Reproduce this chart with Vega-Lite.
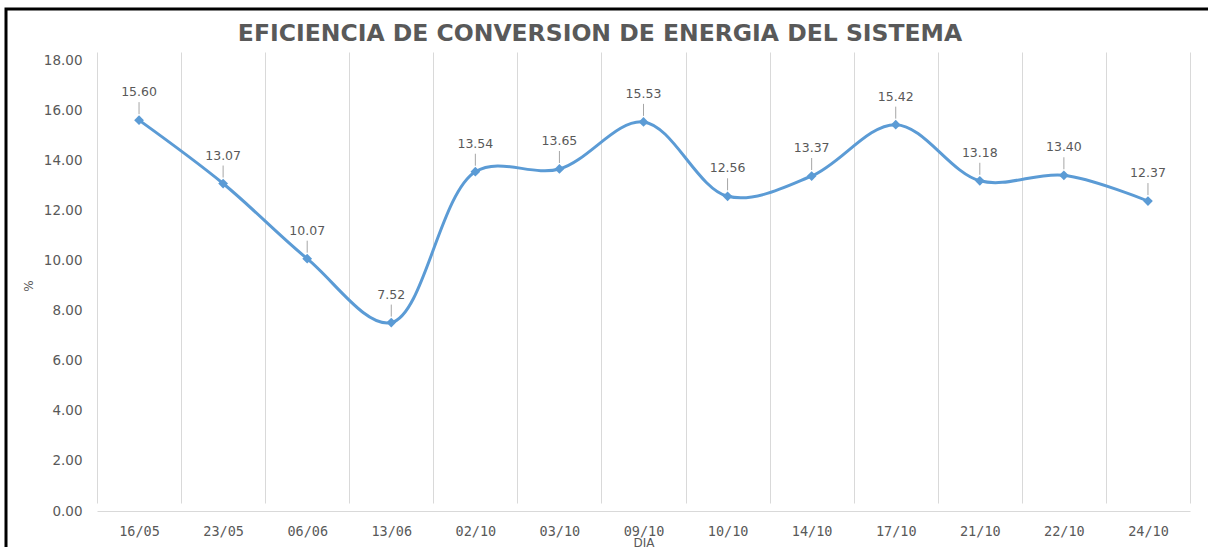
{
  "$schema": "https://vega.github.io/schema/vega-lite/v6.json",
  "width": 1210,
  "height": 545,
  "autosize": {"type": "none"},
  "padding": {"left": 6, "top": 9, "right": 0, "bottom": 0},
  "background": "white",
  "config": {"view": {"stroke": "#000000", "strokeWidth": 3}},
  "title": {
    "text": "EFICIENCIA DE CONVERSION DE ENERGIA DEL SISTEMA",
    "font": "DejaVu Sans",
    "fontSize": 23.5,
    "fontWeight": "bold",
    "color": "#595959",
    "anchor": "middle",
    "frame": "group",
    "offset": 0,
    "baseline": "alphabetic",
    "dy": 55,
    "dx": -11
  },
  "data": {
    "values": [
      {"dia": "16/05", "ef": 15.60},
      {"dia": "23/05", "ef": 13.07},
      {"dia": "06/06", "ef": 10.07},
      {"dia": "13/06", "ef": 7.52},
      {"dia": "02/10", "ef": 13.54},
      {"dia": "03/10", "ef": 13.65},
      {"dia": "09/10", "ef": 15.53},
      {"dia": "10/10", "ef": 12.56},
      {"dia": "14/10", "ef": 13.37},
      {"dia": "17/10", "ef": 15.42},
      {"dia": "21/10", "ef": 13.18},
      {"dia": "22/10", "ef": 13.40},
      {"dia": "24/10", "ef": 12.37}
    ]
  },
  "encoding": {
    "x": {
      "field": "dia",
      "type": "ordinal",
      "sort": null,
      "scale": {"type": "band", "range": [91, 1184], "paddingInner": 0, "paddingOuter": 0},
      "axis": {
        "orient": "bottom",
        "offset": -43,
        "domain": true,
        "domainColor": "#D9D9D9",
        "ticks": false,
        "grid": true,
        "gridColor": "#D9D9D9",
        "tickBand": "extent",
        "labelAngle": 0,
        "labelFont": "DejaVu Sans Mono",
        "labelFontSize": 13.5,
        "labelColor": "#595959",
        "labelPadding": 13,
        "title": "DIA",
        "titleFont": "DejaVu Sans",
        "titleFontSize": 12,
        "titleFontWeight": "normal",
        "titleColor": "#595959",
        "titlePadding": 0
      }
    },
    "y": {
      "field": "ef",
      "type": "quantitative",
      "scale": {"domain": [0, 18], "range": [502, 51], "nice": false, "zero": true},
      "axis": {
        "orient": "left",
        "offset": -91,
        "domain": false,
        "ticks": false,
        "grid": false,
        "values": [0, 2, 4, 6, 8, 10, 12, 14, 16, 18],
        "format": ".2f",
        "labelPadding": 15,
        "labelFont": "DejaVu Sans",
        "labelFontSize": 13.5,
        "labelColor": "#595959",
        "title": "%",
        "titleFont": "DejaVu Sans",
        "titleFontSize": 12,
        "titleFontWeight": "normal",
        "titleColor": "#595959",
        "titleX": -62
      }
    }
  },
  "layer": [
    {
      "mark": {"type": "rule", "color": "#A6A6A6", "strokeWidth": 1, "yOffset": -6, "y2Offset": -18},
      "encoding": {"y2": {"field": "ef"}}
    },
    {
      "mark": {"type": "line", "interpolate": "catmull-rom", "color": "#5B9BD5", "strokeWidth": 3}
    },
    {
      "mark": {"type": "point", "shape": "diamond", "filled": true, "size": 95, "color": "#5B9BD5", "opacity": 1}
    },
    {
      "mark": {"type": "text", "dy": -28, "font": "DejaVu Sans", "fontSize": 12.5, "color": "#595959"},
      "encoding": {"text": {"field": "ef", "type": "quantitative", "format": ".2f"}}
    }
  ]
}
